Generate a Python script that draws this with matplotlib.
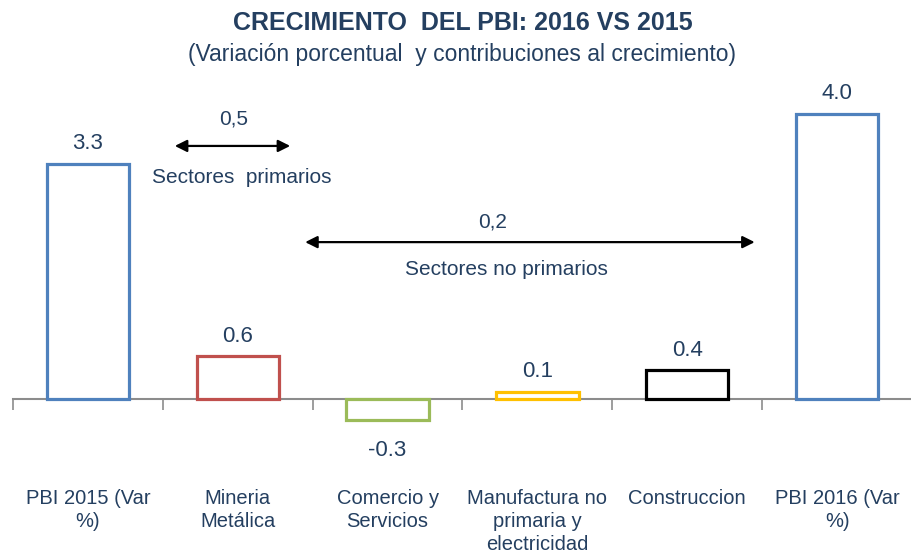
import matplotlib
matplotlib.use('Agg')
import matplotlib.pyplot as plt
import numpy as np

# Data
categories = ["PBI 2015 (Var\n%)", "Mineria\nMetálica", "Comercio y\nServicios",
              "Manufactura no\nprimaria y\nelectricidad", "Construccion",
              "PBI 2016 (Var\n%)"]
values = [3.3, 0.6, -0.3, 0.1, 0.4, 4.0]
value_labels = ["3.3", "0.6", "-0.3", "0.1", "0.4", "4.0"]
edge_colors = ["#4F81BD", "#C0504D", "#9BBB59", "#FFC000", "#000000", "#4F81BD"]
primary_contrib = "0,5"
nonprimary_contrib = "0,2"

text_color = "#243F60"
plt.rcParams['font.family'] = ['Liberation Sans', 'DejaVu Sans']

fig = plt.figure(figsize=(9.12, 5.59), dpi=100)
ax = fig.add_axes([13 / 912, 0.159, 1 - 13 / 912, 0.701])

x = np.arange(len(values))
ax.bar(x, values, width=0.55, facecolor='white', edgecolor=edge_colors,
       linewidth=2.3, zorder=3)
ax.set_xlim(-0.5, len(values) - 0.5)
ax.set_ylim(-1.0, 4.5)

# value labels
for xi, v, lab in zip(x, values, value_labels):
    if v >= 0:
        ax.text(xi, v + 0.28, lab, ha='center', va='center', fontsize=16,
                color=text_color)
    else:
        ax.text(xi, v - 0.43, lab, ha='center', va='center', fontsize=16,
                color=text_color)

# category labels below the axis
for xi, lab in zip(x, categories):
    ax.text(xi, -1.27, lab, ha='center', va='top', fontsize=14.5,
            color=text_color, linespacing=1.25, clip_on=False)

# baseline with boundary ticks
for s in ['top', 'right', 'left']:
    ax.spines[s].set_visible(False)
ax.spines['bottom'].set_position(('data', 0))
ax.spines['bottom'].set_color('#8C8C8C')
ax.spines['bottom'].set_linewidth(1.5)
ax.set_yticks([])
ax.set_xticks(np.arange(-0.5, len(values), 1.0))
ax.set_xticklabels([])
ax.tick_params(axis='x', direction='out', length=8, width=1.2,
               color='#8C8C8C')

# contribution arrows
arrow = dict(arrowstyle='<|-|>', color='black', lw=1.6, mutation_scale=18,
             shrinkA=0, shrinkB=0)
ax.annotate('', xy=(1.35, 3.55), xytext=(0.58, 3.55), arrowprops=arrow)
ax.text(0.97, 3.93, primary_contrib, ha='center', va='center', fontsize=15,
        color=text_color)
ax.text(1.03, 3.11, "Sectores  primarios", ha='center', va='center',
        fontsize=15, color=text_color)

ax.annotate('', xy=(4.45, 2.2), xytext=(1.45, 2.2), arrowprops=arrow)
ax.text(2.7, 2.48, nonprimary_contrib, ha='center', va='center', fontsize=15,
        color=text_color)
ax.text(2.79, 1.81, "Sectores no primarios", ha='center', va='center',
        fontsize=15, color=text_color)

# titles
fig.text(0.508, 0.958, "CRECIMIENTO  DEL PBI: 2016 VS 2015", ha='center',
         va='center', fontsize=18, fontweight='bold', color=text_color)
fig.text(0.507, 0.903,
         "(Variación porcentual  y contribuciones al crecimiento)",
         ha='center', va='center', fontsize=16.5, color=text_color)

plt.savefig('out.png', dpi=100)
